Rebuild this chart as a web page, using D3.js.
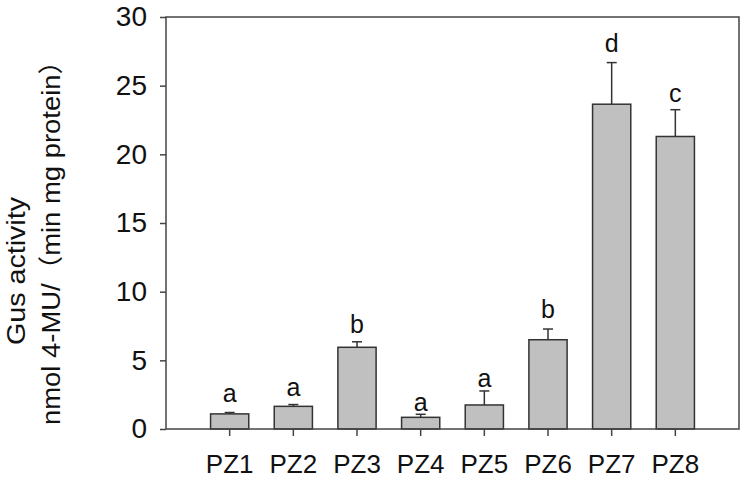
<!DOCTYPE html>
<html>
<head>
<meta charset="utf-8">
<script src="https://cdn.jsdelivr.net/npm/d3@7"></script>
<style>
  body { margin: 0; background: #fff; }
  text { font-family: "Liberation Sans", Arial, "Noto Sans CJK SC", sans-serif; fill: #111; }
</style>
</head>
<body>
<svg id="svg"></svg>
<script>
const categories = ["PZ1", "PZ2", "PZ3", "PZ4", "PZ5", "PZ6", "PZ7", "PZ8"];
const means = [1.1, 1.65, 5.95, 0.85, 1.75, 6.5, 23.65, 21.3];
const errors = [0.1, 0.13, 0.4, 0.22, 1.02, 0.78, 3.03, 1.95];
const letters = ["a", "a", "b", "a", "a", "b", "d", "c"];
const letterAt = [1.99, 2.4, 7.0, 1.33, 3.08, 8.08, 27.47, 23.83];
const yTicks = [0, 5, 10, 15, 20, 25, 30];
const titleLines = ["Gus activity", "nmol 4-MU/\uFF08min mg protein\uFF09"];

let layout = {"width": 746, "height": 482,
              "marginTop": 17, "marginRight": 7,
              "marginBottom": 53, "marginLeft": 166};

const data = categories.map((c, i) => ({name: c, mean: means[i], err: errors[i], letter: letters[i], at: letterAt[i]}));

let svgElement = d3.select("#svg")
                   .attr("width", layout.width)
                   .attr("height", layout.height);

let xScale = d3.scaleBand()
               .domain(categories)
               .range([layout.marginLeft, layout.width - layout.marginRight])
               .paddingInner(0.4)
               .paddingOuter(0.7);

let yScale = d3.scaleLinear()
               .domain([0, 30])
               .range([layout.height - layout.marginBottom, layout.marginTop]);

const bottom = layout.height - layout.marginBottom;
const axisColor = "#444";

// bars
svgElement.append("g")
  .selectAll("rect")
  .data(data)
  .join("rect")
  .attr("x", d => xScale(d.name))
  .attr("y", d => yScale(d.mean))
  .attr("width", xScale.bandwidth())
  .attr("height", d => bottom - yScale(d.mean))
  .attr("fill", "#c0c0c0")
  .attr("stroke", "#333")
  .attr("stroke-width", 1.5);

// error bars
let errG = svgElement.append("g").attr("stroke", "#333").attr("stroke-width", 1.5);
errG.selectAll(".stem")
  .data(data)
  .join("line")
  .attr("class", "stem")
  .attr("x1", d => xScale(d.name) + xScale.bandwidth() / 2)
  .attr("x2", d => xScale(d.name) + xScale.bandwidth() / 2)
  .attr("y1", d => yScale(d.mean))
  .attr("y2", d => yScale(d.mean + d.err));
errG.selectAll(".cap")
  .data(data)
  .join("line")
  .attr("class", "cap")
  .attr("x1", d => xScale(d.name) + xScale.bandwidth() / 2 - 5)
  .attr("x2", d => xScale(d.name) + xScale.bandwidth() / 2 + 5)
  .attr("y1", d => yScale(d.mean + d.err))
  .attr("y2", d => yScale(d.mean + d.err));

// significance letters
svgElement.append("g")
  .selectAll("text")
  .data(data)
  .join("text")
  .attr("x", d => xScale(d.name) + xScale.bandwidth() / 2)
  .attr("y", d => yScale(d.at))
  .attr("text-anchor", "middle")
  .attr("font-size", 25)
  .text(d => d.letter);

// frame
svgElement.append("rect")
  .attr("x", layout.marginLeft)
  .attr("y", layout.marginTop)
  .attr("width", layout.width - layout.marginRight - layout.marginLeft)
  .attr("height", bottom - layout.marginTop)
  .attr("fill", "none")
  .attr("stroke", axisColor)
  .attr("stroke-width", 1.5);

// y axis
let yAxis = svgElement.append("g")
  .attr("transform", `translate(${layout.marginLeft}, 0)`)
  .call(d3.axisLeft(yScale).tickValues(yTicks).tickSize(6).tickPadding(13).tickFormat(d3.format("d")));
yAxis.select(".domain").remove();
yAxis.selectAll("line").attr("stroke", axisColor).attr("stroke-width", 1.5);
yAxis.selectAll("text").attr("font-size", 28).attr("font-family", null).attr("fill", "#111");

// x axis
let xAxis = svgElement.append("g")
  .attr("transform", `translate(0, ${bottom})`)
  .call(d3.axisBottom(xScale).tickSize(7).tickPadding(19));
xAxis.select(".domain").remove();
xAxis.selectAll("line").attr("stroke", axisColor).attr("stroke-width", 1.5);
xAxis.selectAll("text").attr("font-size", 26).attr("font-family", null).attr("fill", "#111");

// y title
let title = svgElement.append("g").attr("transform", "rotate(-90)");
title.append("text")
  .attr("x", -345)
  .attr("y", 25)
  .attr("font-size", 25)
  .attr("textLength", 148)
  .attr("lengthAdjust", "spacingAndGlyphs")
  .text(titleLines[0]);
title.append("text")
  .attr("x", -425)
  .attr("y", 60)
  .attr("font-size", 25)
  .attr("textLength", 378)
  .attr("lengthAdjust", "spacingAndGlyphs")
  .text(titleLines[1]);
</script>
</body>
</html>
